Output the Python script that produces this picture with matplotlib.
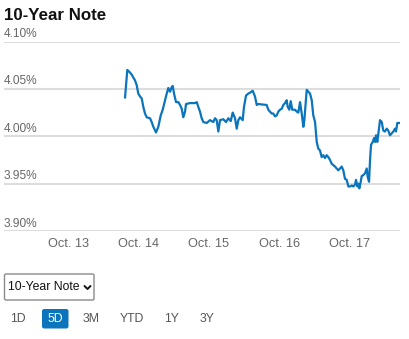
import matplotlib.pyplot as plt
from matplotlib.patches import FancyBboxPatch
from matplotlib.lines import Line2D

plt.rcParams['font.family'] = ['Liberation Sans', 'DejaVu Sans']

# time in days after Oct. 13 00:00, yield in percent
days = [0.809, 0.841, 0.870, 0.904, 0.926, 0.950, 0.974, 0.997, 1.021, 1.045,
        1.068, 1.092, 1.116, 1.163, 1.187, 1.210, 1.248, 1.281, 1.315, 1.343,
        1.376, 1.400, 1.423, 1.447, 1.471, 1.485, 1.504, 1.532, 1.565, 1.589,
        1.613, 1.635, 1.660, 1.674, 1.730, 1.801, 1.826, 1.848, 1.872, 1.896,
        1.919, 1.967, 2.014, 2.061, 2.085, 2.109, 2.132, 2.156, 2.203, 2.241,
        2.274, 2.308, 2.336, 2.369, 2.393, 2.416, 2.440, 2.478, 2.496, 2.525,
        2.557, 2.582, 2.620, 2.652, 2.677, 2.699, 2.818, 2.841, 2.865, 2.889,
        2.912, 2.936, 2.960, 2.983, 3.007, 3.031, 3.054, 3.078, 3.102, 3.116,
        3.139, 3.159, 3.181, 3.220, 3.244, 3.267, 3.291, 3.315, 3.338, 3.352,
        3.372, 3.386, 3.409, 3.433, 3.457, 3.479, 3.504, 3.528, 3.550, 3.574,
        3.598, 3.621, 3.645, 3.669, 3.692, 3.716, 3.740, 3.787, 3.834, 3.858,
        3.882, 3.905, 3.929, 3.953, 3.976, 4.000, 4.024, 4.047, 4.071, 4.085,
        4.104, 4.118, 4.132, 4.152, 4.166, 4.189, 4.213, 4.237, 4.251, 4.270,
        4.284, 4.298, 4.322, 4.340, 4.355, 4.369, 4.387, 4.411, 4.426, 4.450,
        4.472, 4.496, 4.521, 4.543, 4.567, 4.591, 4.614, 4.638, 4.652, 4.671,
        4.695]
yields = [4.041, 4.070, 4.068, 4.065, 4.062, 4.059, 4.054, 4.045, 4.042, 4.040,
          4.031, 4.024, 4.020, 4.019, 4.015, 4.010, 4.004, 4.010, 4.022, 4.028,
          4.038, 4.045, 4.051, 4.047, 4.052, 4.053, 4.045, 4.036, 4.036, 4.033,
          4.029, 4.020, 4.026, 4.034, 4.035, 4.035, 4.036, 4.031, 4.026, 4.019,
          4.015, 4.014, 4.017, 4.015, 4.019, 4.017, 4.005, 4.017, 4.018, 4.015,
          4.019, 4.016, 4.025, 4.019, 4.008, 4.017, 4.020, 4.017, 4.031, 4.043,
          4.045, 4.046, 4.048, 4.042, 4.033, 4.034, 4.033, 4.028, 4.026, 4.024,
          4.024, 4.021, 4.022, 4.026, 4.028, 4.029, 4.033, 4.035, 4.038, 4.031,
          4.028, 4.037, 4.028, 4.028, 4.026, 4.025, 4.036, 4.024, 4.010, 4.017,
          4.035, 4.049, 4.047, 4.045, 4.038, 4.022, 4.015, 3.994, 3.987, 3.985,
          3.978, 3.980, 3.977, 3.980, 3.978, 3.975, 3.971, 3.968, 3.964, 3.966,
          3.968, 3.964, 3.955, 3.954, 3.947, 3.947, 3.948, 3.947, 3.949, 3.954,
          3.947, 3.950, 3.945, 3.952, 3.958, 3.959, 3.961, 3.966, 3.957, 3.952,
          3.975, 3.991, 3.994, 3.998, 3.994, 4.001, 3.994, 4.008, 4.017, 4.015,
          4.006, 4.005, 4.008, 4.006, 4.001, 4.003, 4.005, 4.008, 4.005, 4.014,
          4.014]

tick_days = [0, 1, 2, 3, 4]
tick_labels = ['Oct. 13', 'Oct. 14', 'Oct. 15', 'Oct. 16', 'Oct. 17']
y_ticks = [3.90, 3.95, 4.00, 4.05, 4.10]
periods = ['1D', '5D', '3M', 'YTD', '1Y', '3Y']
period_x = [18, 55, 91, 132, 172, 207]
active_period = '5D'

W, H = 409, 339
fig = plt.figure(figsize=(W / 100, H / 100), dpi=100)
fig.patch.set_facecolor('white')

def fx(px):
    return px / W

def fy(py):
    return 1 - py / H

ax = fig.add_axes([fx(4), fy(231), fx(400) - fx(4), fy(41.5) - fy(231)])
ax.set_xlim(-0.908, 4.709)
ax.set_ylim(3.90, 4.10)
for yv in y_ticks:
    ax.axhline(yv, color='#dddddd', lw=1.5, zorder=1)
ax.plot(days, yields, color='#0a74bd', lw=1.6, zorder=3, solid_joinstyle='round')
for s in ax.spines.values():
    s.set_visible(False)
ax.set_yticks([])
ax.set_xticks(tick_days)
ax.set_xticklabels(tick_labels, fontsize=9.2, color='#666666')
ax.tick_params(axis='x', length=0, pad=5)
ax.patch.set_alpha(0)

# value labels sit just above each gridline at the left edge
for yv in y_ticks:
    ax.annotate(f'{yv:.2f}%', xy=(0, yv), xycoords=('axes fraction', 'data'),
                xytext=(0, 1), textcoords='offset points',
                fontsize=8.6, color='#666666', va='bottom', ha='left')

fig.text(fx(4), fy(15), '10-Year Note', fontsize=12.2, fontweight='bold',
         color='#111111', va='center', ha='left')

# dropdown box
box = FancyBboxPatch((fx(4.5), fy(300)), fx(94) - fx(4.5), fy(274) - fy(300),
                     boxstyle='round,pad=0,rounding_size=0.004',
                     transform=fig.transFigure, facecolor='white',
                     edgecolor='#8a8a8a', lw=1.0)
fig.patches.append(box)
fig.text(fx(8.5), fy(287.5), '10-Year Note', fontsize=8.8, color='#111111',
         va='center', ha='left')
fig.lines.append(Line2D([fx(84.5), fx(87.5), fx(90.5)], [fy(286), fy(289), fy(286)],
                        transform=fig.transFigure, color='#111111', lw=1.4,
                        solid_capstyle='round'))

# period selector
for label, px in zip(periods, period_x):
    if label == active_period:
        btn = FancyBboxPatch((fx(42), fy(328.5)), fx(68.5) - fx(42), fy(309) - fy(328.5),
                             boxstyle='round,pad=0,rounding_size=0.006',
                             transform=fig.transFigure, facecolor='#0a74bd',
                             edgecolor='none')
        fig.patches.append(btn)
        fig.text(fx(px), fy(319.5), label, fontsize=8.8, color='white',
                 va='center', ha='center')
    else:
        fig.text(fx(px), fy(319.5), label, fontsize=8.8, color='#555555',
                 va='center', ha='center')

fig.savefig('out.png', dpi=100, facecolor='white')
